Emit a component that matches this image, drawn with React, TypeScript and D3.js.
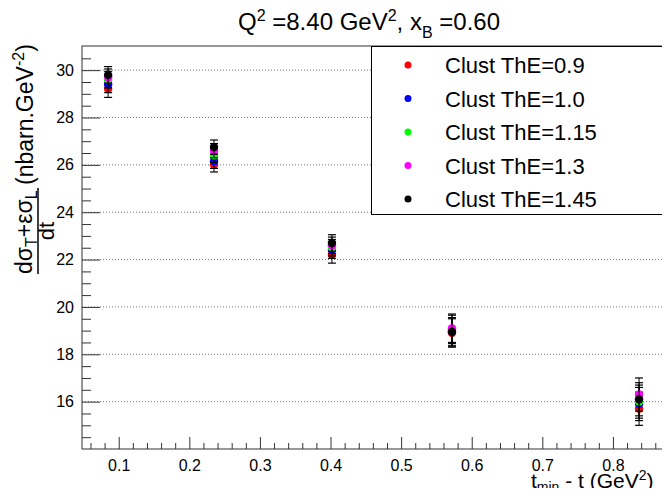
import React, { useEffect, useRef } from 'react'
import * as d3 from 'd3'

const width = 670
const height = 496
const margin = { top: 46, right: 2, bottom: 47, left: 82 }

// t_min - t bin centres (GeV^2)
const tBins = [0.085, 0.235, 0.402, 0.572, 0.837]

// cross sections for each cluster threshold
const clust09 = [29.2, 26.0, 22.2, 18.9, 15.7]
const clust10 = [29.4, 26.15, 22.4, 18.95, 15.9]
const clust115 = [29.6, 26.4, 22.5, 19.05, 16.0]
const clust13 = [29.7, 26.6, 22.6, 19.1, 16.3]
const clust145 = [29.8, 26.75, 22.7, 18.95, 16.1]
const errors = [0.35, 0.3, 0.35, 0.6, 0.7]

const seriesNames = ['Clust ThE=0.9', 'Clust ThE=1.0', 'Clust ThE=1.15', 'Clust ThE=1.3', 'Clust ThE=1.45']
const seriesValues = [clust09, clust10, clust115, clust13, clust145]
const seriesColors = ['#ff0000', '#0000ff', '#00ff00', '#ff00ff', '#000000']

const xTicks = [0.1, 0.2, 0.3, 0.4, 0.5, 0.6, 0.7, 0.8]
const yTicks = [16, 18, 20, 22, 24, 26, 28, 30]

const font = "'Liberation Sans', Arial, Helvetica, sans-serif"

export default function App () {
  const ref = useRef<SVGSVGElement | null>(null)

  useEffect(() => {
    const svg = d3.select(ref.current)
    svg.selectAll('*').remove()

    const x = d3.scaleLinear().domain([0.048, 0.878]).range([margin.left, width - margin.right])
    const y = d3.scaleLinear().domain([14.0, 31.02]).range([height - margin.bottom, margin.top])

    svg.append('rect').attr('width', width).attr('height', height).attr('fill', '#fff')

    // grid (horizontal, dotted)
    svg.append('g')
      .selectAll('line')
      .data(yTicks)
      .join('line')
      .attr('x1', margin.left)
      .attr('x2', width - margin.right)
      .attr('y1', d => y(d))
      .attr('y2', d => y(d))
      .attr('stroke', '#777')
      .attr('stroke-width', 1)
      .attr('stroke-dasharray', '1 2')

    // x axis
    const xMinor = d3.range(0.06, 0.878, 0.02).filter(v => Math.abs(Math.round(v * 10) - v * 10) > 1e-6)
    svg.append('g')
      .attr('transform', `translate(0, ${height - margin.bottom})`)
      .call(d3.axisBottom(x).tickValues(xMinor).tickSize(-6).tickFormat(() => ''))
    svg.append('g')
      .classed('xAxis', true)
      .attr('transform', `translate(0, ${height - margin.bottom})`)
      .call(d3.axisBottom(x).tickValues(xTicks).tickSize(-12).tickPadding(11).tickFormat(d3.format('.1f')))

    // y axis
    const yMinor = d3.range(14.5, 31, 0.5).filter(v => v % 2 !== 0)
    svg.append('g')
      .attr('transform', `translate(${margin.left}, 0)`)
      .call(d3.axisLeft(y).tickValues(yMinor).tickSize(-9).tickFormat(() => ''))
    svg.append('g')
      .classed('yAxis', true)
      .attr('transform', `translate(${margin.left}, 0)`)
      .call(d3.axisLeft(y).tickValues(yTicks).tickSize(-18).tickPadding(8).tickFormat(d3.format('d')))

    svg.selectAll('.domain').remove()
    svg.selectAll('.tick line').attr('stroke', '#333')
    svg.selectAll('.tick text').attr('font-family', font).attr('font-size', 16).attr('fill', '#000')

    // frame
    svg.append('rect')
      .attr('x', margin.left)
      .attr('y', margin.top)
      .attr('width', width - margin.left - margin.right)
      .attr('height', height - margin.top - margin.bottom)
      .attr('fill', 'none')
      .attr('stroke', '#333')

    // error bars and markers
    seriesValues.forEach((vals, si) => {
      const g = svg.append('g')
      const pts = vals.map((v, i) => ({ t: tBins[i], v, e: errors[i] }))
      g.selectAll('line.err')
        .data(pts)
        .join('line')
        .attr('x1', d => x(d.t)).attr('x2', d => x(d.t))
        .attr('y1', d => y(d.v - d.e)).attr('y2', d => y(d.v + d.e))
        .attr('stroke', '#000').attr('stroke-width', 1)
      g.selectAll('line.capTop')
        .data(pts)
        .join('line')
        .attr('x1', d => x(d.t) - 4).attr('x2', d => x(d.t) + 4)
        .attr('y1', d => y(d.v + d.e)).attr('y2', d => y(d.v + d.e))
        .attr('stroke', '#000').attr('stroke-width', 1.2)
      g.selectAll('line.capBot')
        .data(pts)
        .join('line')
        .attr('x1', d => x(d.t) - 4).attr('x2', d => x(d.t) + 4)
        .attr('y1', d => y(d.v - d.e)).attr('y2', d => y(d.v - d.e))
        .attr('stroke', '#000').attr('stroke-width', 1.2)
      g.selectAll('circle')
        .data(pts)
        .join('circle')
        .attr('cx', d => x(d.t))
        .attr('cy', d => y(d.v))
        .attr('r', 4.2)
        .attr('fill', seriesColors[si])
    })

    // legend
    const lg = svg.append('g')
    lg.append('rect')
      .attr('x', 371.5).attr('y', 46.5)
      .attr('width', 296).attr('height', 168)
      .attr('fill', '#fff').attr('stroke', '#000')
    seriesNames.forEach((name, i) => {
      const cy = 65 + i * 33.5
      lg.append('circle').attr('cx', 408).attr('cy', cy).attr('r', 3.5).attr('fill', seriesColors[i])
      lg.append('text')
        .attr('x', 445).attr('y', cy + 8)
        .attr('font-family', font).attr('font-size', 22)
        .text(name)
    })

    // title
    const title = svg.append('text')
      .attr('x', 238)
      .attr('y', 30)
      .attr('font-family', font)
      .attr('font-size', 24)
    title.append('tspan').text('Q')
    title.append('tspan').attr('dy', -9).attr('font-size', 16).text('2')
    title.append('tspan').attr('dy', 9).text(' =8.40 GeV')
    title.append('tspan').attr('dy', -9).attr('font-size', 16).text('2')
    title.append('tspan').attr('dy', 9).text(', x')
    title.append('tspan').attr('dy', 8).attr('font-size', 16).text('B')
    title.append('tspan').attr('dy', -8).text(' =0.60')

    // x axis title
    const xt = svg.append('text')
      .attr('x', 531)
      .attr('y', 488)
      .attr('font-family', font)
      .attr('font-size', 21)
    xt.append('tspan').text('t')
    xt.append('tspan').attr('dy', 4).attr('font-size', 14).text('min')
    xt.append('tspan').attr('dy', -4).text(' - t (GeV')
    xt.append('tspan').attr('dy', -8).attr('font-size', 14).text('2')
    xt.append('tspan').attr('dy', 8).text(')')

    // y axis title (fraction)
    const yl = svg.append('g')
      .attr('transform', 'translate(0, 274) rotate(-90)')
      .attr('font-family', font)
    const num = yl.append('text').attr('x', 0).attr('y', 32).attr('font-size', 23)
    num.append('tspan').text('dσ')
    num.append('tspan').attr('dy', 5).attr('font-size', 16).text('T')
    num.append('tspan').attr('dy', -5).text('+εσ')
    num.append('tspan').attr('dy', 5).attr('font-size', 16).text('L')
    yl.append('line')
      .attr('x1', 0).attr('x2', 86)
      .attr('y1', 38).attr('y2', 38)
      .attr('stroke', '#000').attr('stroke-width', 1.5)
    yl.append('text').attr('x', 43).attr('y', 54).attr('text-anchor', 'middle')
      .attr('font-size', 22).text('dt')
    const unit = yl.append('text').attr('x', 89).attr('y', 33).attr('font-size', 23)
    unit.append('tspan').text('(nbarn.GeV')
    unit.append('tspan').attr('dy', -9).attr('font-size', 16).text('-2')
    unit.append('tspan').attr('dy', 9).text(')')
  }, [])

  return (
    <svg ref={ref} width={width} height={height} style={{ display: 'block', margin: '-8px' }} />
  )
}
